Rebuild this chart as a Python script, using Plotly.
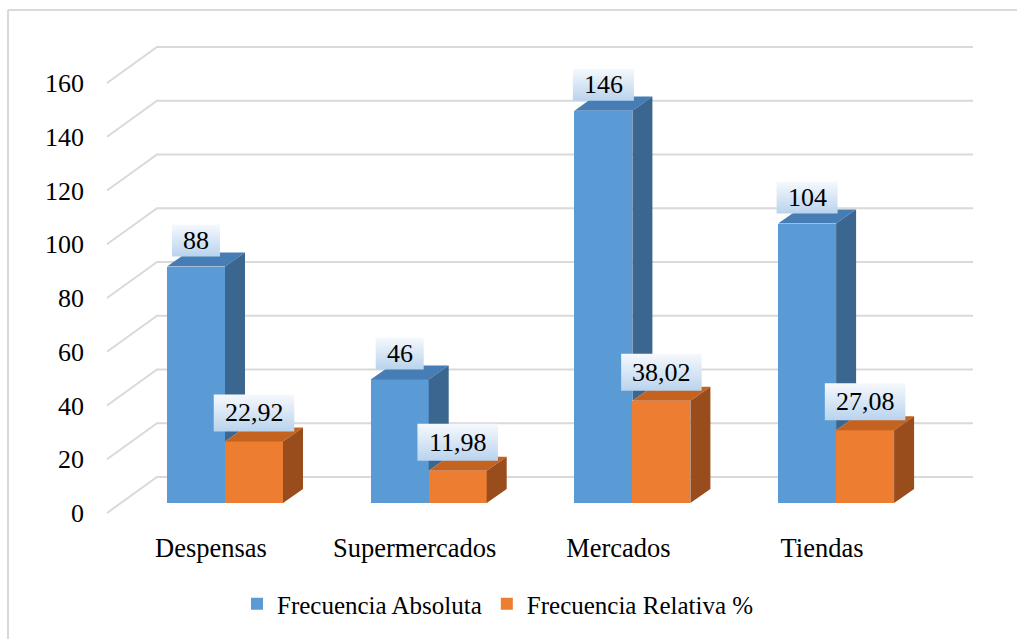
import plotly.graph_objects as go

# ---- data -------------------------------------------------------------
categories = ["Despensas", "Supermercados", "Mercados", "Tiendas"]
frecuencia_absoluta = [88, 46, 146, 104]
frecuencia_relativa = [22.92, 11.98, 38.02, 27.08]
absoluta_text = ["88", "46", "146", "104"]
relativa_text = ["22,92", "11,98", "38,02", "27,08"]
y_ticks = [0, 20, 40, 60, 80, 100, 120, 140, 160]
series_names = ["Frecuencia Absoluta", "Frecuencia Relativa %"]

# ---- styling ----------------------------------------------------------
FONT = "Liberation Serif, Times New Roman, serif"
BLUE = ("#5b9bd5", "#477db5", "#3b6690")      # front, top, side
ORANGE = ("#ed7d31", "#c4621f", "#9a4d1c")
GRID = "#d9d9d9"

W, H = 1017, 639
L, R, T, B = 100, 0, 0, 110          # plot area margins
PW, PH = W - L - R, H - T - B

# oblique 3-D projection, expressed in pixels
PX_PER_CAT = 203.7                   # distance between category groups
PX_PER_UNIT = 2.6875                 # pixels per value unit
CAT0_PX, ZERO_PX = 225, 503          # first group centre / zero level on the bars' front plane
FRONT_OFF = (-14, 10)                # floor front edge relative to the bars' front plane
DEPTH = (50, -36)                    # full floor depth (front edge -> back wall)
BAR_DEPTH = (20, -14)                # depth of a single bar
BAR_W_PX = 58
WALL_FRONT_LEFT_PX, WALL_BACK_RIGHT_PX = 107, 973

cx = PX_PER_CAT
bw = BAR_W_PX / cx
ddx, ddv = BAR_DEPTH[0] / cx, -BAR_DEPTH[1] / PX_PER_UNIT

x_range = [(L - CAT0_PX) / cx, (L + PW - CAT0_PX) / cx]
y_range = [(ZERO_PX - (T + PH)) / PX_PER_UNIT, (ZERO_PX - T) / PX_PER_UNIT]
fx0, fy0 = CAT0_PX + FRONT_OFF[0], ZERO_PX + FRONT_OFF[1]
x2_range = [(L - fx0) / cx, (L + PW - fx0) / cx]
y2_range = [(fy0 - (T + PH)) / PX_PER_UNIT, (fy0 - T) / PX_PER_UNIT]

idx = list(range(len(categories)))

fig = go.Figure()

# front faces
fig.add_trace(go.Bar(x=idx, y=frecuencia_absoluta, width=bw, offset=-bw,
                     marker=dict(color=BLUE[0], line=dict(width=0)),
                     name=series_names[0]))
fig.add_trace(go.Bar(x=idx, y=frecuencia_relativa, width=bw, offset=0,
                     marker=dict(color=ORANGE[0], line=dict(width=0)),
                     name=series_names[1]))


def polys(pts_list):
    xs, ys = [], []
    for pts in pts_list:
        for px, py in pts + [pts[0]]:
            xs.append(px)
            ys.append(py)
        xs.append(None)
        ys.append(None)
    return xs, ys


def face(pts_list, color):
    xs, ys = polys(pts_list)
    fig.add_trace(go.Scatter(x=xs, y=ys, mode="lines", fill="toself",
                             fillcolor=color, line=dict(width=0, color=color),
                             hoverinfo="skip", showlegend=False))


blue_top, blue_side, or_top, or_side = [], [], [], []
for i, (a, r) in enumerate(zip(frecuencia_absoluta, frecuencia_relativa)):
    x0, x1 = i - bw, i
    blue_top.append([(x0, a), (x1, a), (x1 + ddx, a + ddv), (x0 + ddx, a + ddv)])
    # only the part of the blue side above the orange bar's top edge shows
    blue_side.append([(x1, r), (x1, a), (x1 + ddx, a + ddv), (x1 + ddx, r + ddv)])
    o0, o1 = i, i + bw
    or_top.append([(o0, r), (o1, r), (o1 + ddx, r + ddv), (o0 + ddx, r + ddv)])
    or_side.append([(o1, 0), (o1, r), (o1 + ddx, r + ddv), (o1 + ddx, ddv)])

face(blue_top, BLUE[1])
face(blue_side, BLUE[2])
face(or_top, ORANGE[1])
face(or_side, ORANGE[2])

# value label boxes (vertical gradient) with their text
annotations = []


def label(xc, value, text):
    n_dec = "," in text
    w_px = len(text.replace(",", "")) * 13 + (6.5 if n_dec else 0) + 22
    h_px = 37 if n_dec else 32
    bottom = value + 10 / PX_PER_UNIT
    top = bottom + h_px / PX_PER_UNIT
    hw = w_px / 2 / cx
    xs = [xc - hw, xc + hw, xc + hw, xc - hw, xc - hw]
    ys = [bottom, bottom, top, top, bottom]
    fig.add_trace(go.Scatter(x=xs, y=ys, mode="lines", fill="toself",
                             line=dict(width=0),
                             fillgradient=dict(type="vertical",
                                               colorscale=[[0, "#b9d3ed"], [1, "#f6f9fd"]]),
                             hoverinfo="skip", showlegend=False))
    annotations.append(dict(x=xc, y=(bottom + top) / 2, xref="x", yref="y",
                            text=text, showarrow=False,
                            font=dict(family=FONT, size=26, color="#000000")))


for i, (a, r) in enumerate(zip(frecuencia_absoluta, frecuencia_relativa)):
    label(i - bw / 2, a, absoluta_text[i])
    label(i + bw / 2, r, relativa_text[i])

# floor-to-wall gridlines (drawn on the front-plane axes, beneath the bars)
shapes = []
dx_full, dv_full = DEPTH[0] / cx, -DEPTH[1] / PX_PER_UNIT
wl = (WALL_FRONT_LEFT_PX - fx0) / cx
wr = (WALL_BACK_RIGHT_PX - fx0) / cx
for v in y_ticks:
    path = f"M {wl},{v} L {wl + dx_full},{v + dv_full} L {wr},{v + dv_full}"
    shapes.append(dict(type="path", path=path, xref="x2", yref="y2",
                       line=dict(color=GRID, width=2), layer="below"))


# outer chart border (left and top edges)
def px_x(p):
    return (p - L) / PW


def px_y(p):
    return 1 - (p - T) / PH


shapes.append(dict(type="line", xref="paper", yref="paper",
                   x0=px_x(8), y0=px_y(10), x1=px_x(8), y1=px_y(H + 20),
                   line=dict(color=GRID, width=2)))
shapes.append(dict(type="line", xref="paper", yref="paper",
                   x0=px_x(8), y0=px_y(10), x1=px_x(W + 20), y1=px_y(10),
                   line=dict(color=GRID, width=2)))

fig.update_layout(
    width=W, height=H,
    margin=dict(l=L, r=R, t=T, b=B, pad=0),
    paper_bgcolor="white", plot_bgcolor="white",
    font=dict(family=FONT, size=25, color="#000000"),
    bargap=0, barmode="overlay",
    xaxis=dict(range=x_range, visible=False, fixedrange=True),
    yaxis=dict(range=y_range, visible=False, fixedrange=True),
    xaxis2=dict(range=x2_range, overlaying="x", anchor="y2", side="bottom",
                tickvals=idx, ticktext=categories, showgrid=False,
                zeroline=False, showline=False, ticks="",
                tickfont=dict(family=FONT, size=26.5, color="#000000")),
    yaxis2=dict(range=y2_range, overlaying="y", anchor="x2", side="left",
                tickvals=y_ticks, showgrid=False, zeroline=False,
                showline=False, ticks="", ticklabelstandoff=15,
                tickfont=dict(family=FONT, size=26, color="#000000")),
    legend=dict(orientation="h", x=px_x(498), y=px_y(604),
                xanchor="center", yanchor="middle",
                font=dict(family=FONT, size=25, color="#000000"),
                bgcolor="rgba(0,0,0,0)"),
    shapes=shapes,
    annotations=annotations,
    showlegend=True,
)

fig.write_html("out.html")
